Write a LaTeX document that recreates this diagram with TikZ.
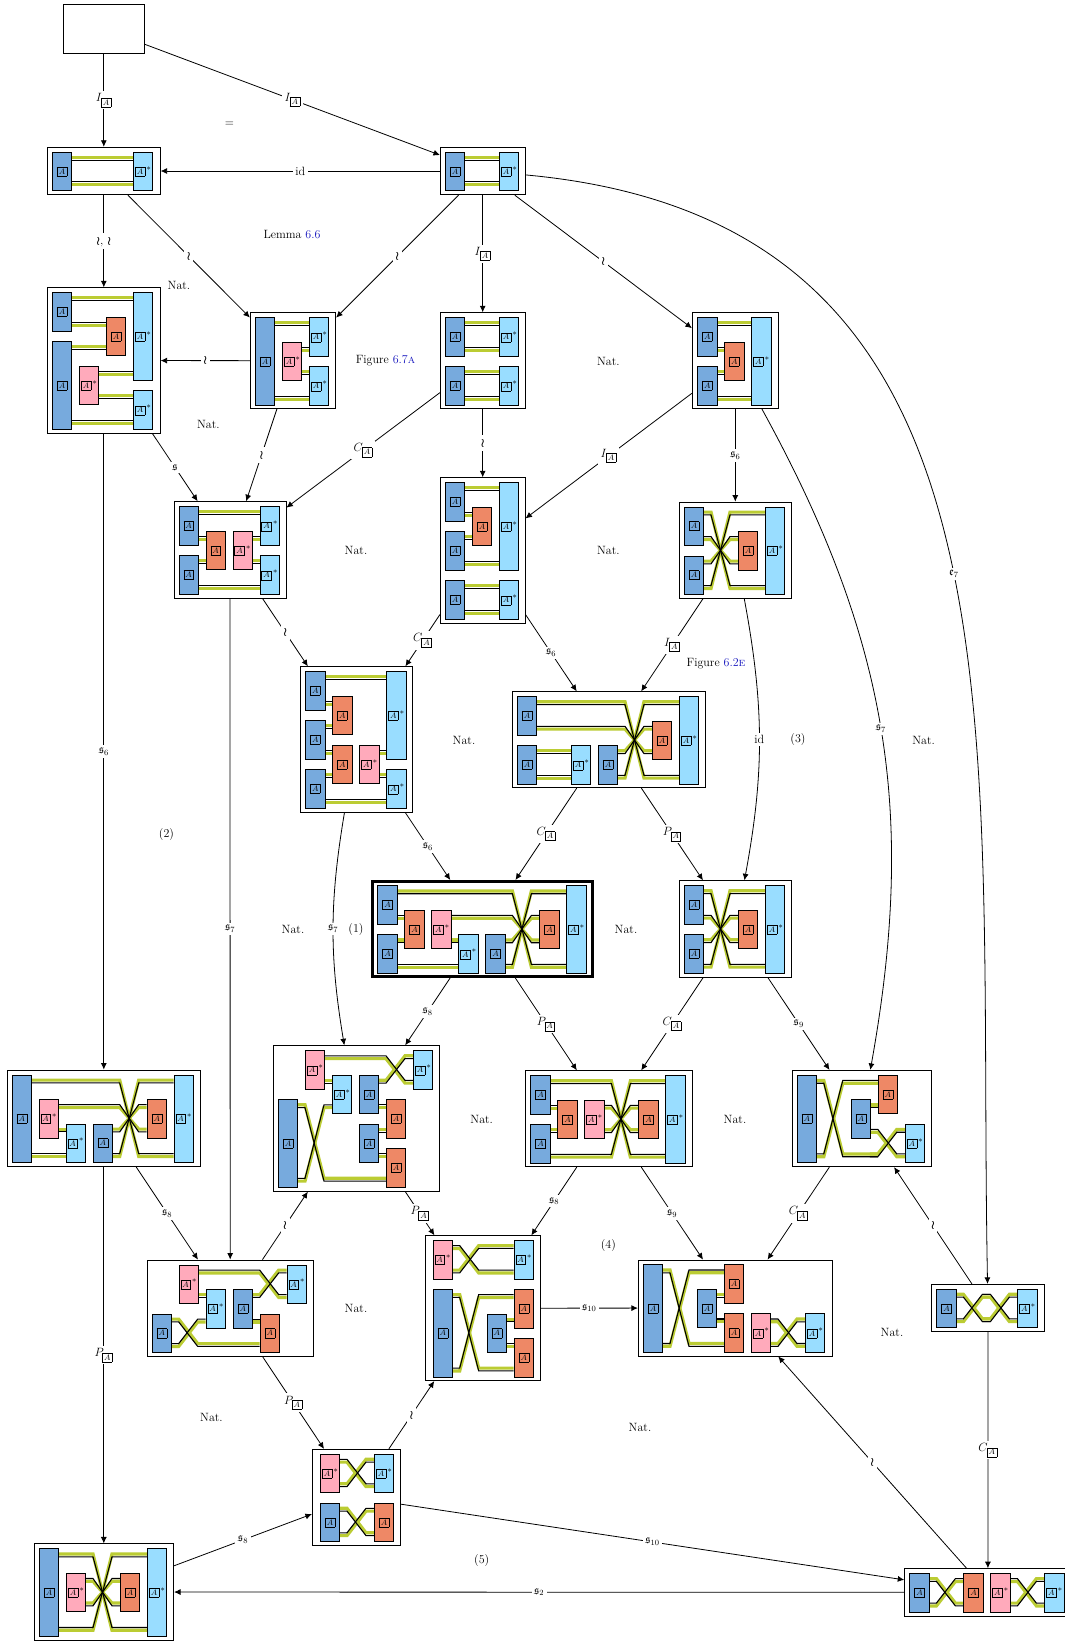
\documentclass[tikz,border=0pt]{standalone}
\usepackage{amsmath}
\usepackage{amssymb}
\usetikzlibrary{arrows.meta}
\definecolor{tolblue}{HTML}{77AADD}
\definecolor{tolcyan}{HTML}{99DDFF}
\definecolor{tolorange}{HTML}{EE8866}
\definecolor{tolpink}{HTML}{FFAABB}
\definecolor{tolpear}{HTML}{BBCC33}
\definecolor{reflink}{rgb}{0.1,0.1,0.75}
\pgfdeclarelayer{celllayer}
\pgfdeclarelayer{greenlayer}
\pgfdeclarelayer{blacklayer}
\pgfsetlayers{celllayer,greenlayer,blacklayer,main}
\tikzset{
  cellframe/.style={draw,line width=0.8pt,fill=white,inner sep=0pt},
  boldframe/.style={cellframe,line width=3pt},
  blockbox/.style={draw,line width=0.8pt,inner sep=0pt,minimum width=19.3pt,anchor=north west},
  greenwire/.style={tolpear,line width=3.2pt},
  blackwire/.style={black,line width=1.1pt},
  arr/.style={-{Latex[length=6.5pt,width=6pt]},line width=0.8pt},
  lab/.style={fill=white,inner sep=2.5pt},
  every node/.append style={font=\fontsize{12}{14}\selectfont}
}
\newcommand{\boxA}{{\fboxsep=1.6pt\fboxrule=0.35pt\fbox{$\scriptstyle A$}}}
\newcommand{\sA}{\mathfrak{s}}
\newcommand{\iso}{\boldsymbol{\wr}}
\newcount\blkno
\newcommand{\blk}[5]{\global\advance\blkno by 1
  \node[blockbox,fill=#4,minimum height={24.5*(#3-#2)+14}] (blk\the\blkno) at ({27*#1},{24.5*#2}) {#5};}
\newcommand{\bluebk}[3]{\blk{#1}{#2}{#3}{tolblue}{\boxA}}
\newcommand{\orangebk}[3]{\blk{#1}{#2}{#3}{tolorange}{\boxA}}
\newcommand{\cyanbk}[3]{\blk{#1}{#2}{#3}{tolcyan}{\boxA$^{\,*}$}}
\newcommand{\pinkbk}[3]{\blk{#1}{#2}{#3}{tolpink}{\boxA$^{\,*}$}}
\newcommand{\wire}[4]{\foreach \sd/\lay/\sty in {1/greenlayer/greenwire,-1/blacklayer/blackwire}{
  \begin{pgfonlayer}{\lay}
  \draw[\sty] ({27*#1+19},{7+24.5*#3+1.4*\sd*#4}) -- ({27*#2},{7+24.5*#3+1.4*\sd*#4});
  \end{pgfonlayer}}}
\newcommand{\xwire}[7]{\foreach \sd/\lay/\sty in {1/greenlayer/greenwire,-1/blacklayer/blackwire}{
  \begin{pgfonlayer}{\lay}
  \draw[\sty] ({27*#1+19},{7+24.5*#4+1.4*\sd*#5}) -- ({27*#2},{7+24.5*#4+1.4*\sd*#5})
    -- ({27*#2+19},{7+24.5*#6+1.4*\sd*#7}) -- ({27*#3},{7+24.5*#6+1.4*\sd*#7});
  \end{pgfonlayer}}}
\newcommand{\conn}[3]{\draw[arr] (#1) -- node[lab] (#1-#2) {#3} (#2);}
\newcommand{\cellat}[6][cellframe]{\begin{pgfonlayer}{celllayer}
  \node[#1,minimum width=#5pt,minimum height=#6pt] (#2) at (#3,#4) {};
  \end{pgfonlayer}}
\begin{document}
\begin{tikzpicture}[x=1pt,y=-1pt]
\useasboundingbox (0,0) rectangle (1065,1642);

\cellat{d0}{103.8}{29}{81.6}{48.6}

\cellat{d1}{103.8}{171}{112.8}{47.6}
\begin{scope}[shift={(52,151.7)}]
  \wire{0}{3}{0}{-1} \wire{0}{3}{1}{1}
  \bluebk{0}{0}{1} \cyanbk{3}{0}{1}
\end{scope}

\cellat{d2}{482.7}{171}{84.7}{47.6}
\begin{scope}[shift={(445,151.7)}]
  \wire{0}{2}{0}{-1} \wire{0}{2}{1}{1}
  \bluebk{0}{0}{1} \cyanbk{2}{0}{1}
\end{scope}

\cellat{d3}{103.8}{360.5}{112.8}{145.6}
\begin{scope}[shift={(52,292.2)}]
  \wire{0}{3}{0}{-1} \wire{0}{2}{1}{1} \wire{0}{2}{2}{-1}
  \wire{1}{3}{3}{1} \wire{1}{3}{4}{-1} \wire{0}{3}{5}{1}
  \bluebk{0}{0}{1} \bluebk{0}{2}{5} \orangebk{2}{1}{2}
  \pinkbk{1}{3}{4} \cyanbk{3}{0}{3} \cyanbk{3}{4}{5}
\end{scope}

\cellat{d4}{293}{360.7}{85.4}{96}
\begin{scope}[shift={(255,317.2)}]
  \wire{0}{2}{0}{-1} \wire{1}{2}{1}{1} \wire{1}{2}{2}{-1} \wire{0}{2}{3}{1}
  \bluebk{0}{0}{3} \pinkbk{1}{1}{2} \cyanbk{2}{0}{1} \cyanbk{2}{2}{3}
\end{scope}

\cellat{d5}{482.7}{360.7}{84.7}{96}
\begin{scope}[shift={(445,317.2)}]
  \wire{0}{2}{0}{-1} \wire{0}{2}{1}{1} \wire{0}{2}{2}{-1} \wire{0}{2}{3}{1}
  \bluebk{0}{0}{1} \bluebk{0}{2}{3} \cyanbk{2}{0}{1} \cyanbk{2}{2}{3}
\end{scope}

\cellat{d6}{735.3}{360.7}{86}{96}
\begin{scope}[shift={(697.3,317.2)}]
  \wire{0}{2}{0}{-1} \wire{0}{1}{1}{1} \wire{0}{1}{2}{-1} \wire{0}{2}{3}{1}
  \bluebk{0}{0}{1} \bluebk{0}{2}{3} \orangebk{1}{1}{2} \cyanbk{2}{0}{3}
\end{scope}

\cellat{d7}{230}{549.8}{112}{96.4}
\begin{scope}[shift={(178.6,506.2)}]
  \wire{0}{3}{0}{-1} \wire{0}{1}{1}{1} \wire{0}{1}{2}{-1}
  \wire{2}{3}{1}{1} \wire{2}{3}{2}{-1} \wire{0}{3}{3}{1}
  \bluebk{0}{0}{1} \bluebk{0}{2}{3} \orangebk{1}{1}{2} \pinkbk{2}{1}{2}
  \cyanbk{3}{0}{1} \cyanbk{3}{2}{3}
\end{scope}

\cellat{d8}{482.7}{550.5}{84.7}{145.6}
\begin{scope}[shift={(445,482.2)}]
  \wire{0}{2}{0}{-1} \wire{0}{1}{1}{1} \wire{0}{1}{2}{-1} \wire{0}{2}{3}{1}
  \wire{0}{2}{4}{-1} \wire{0}{2}{5}{1}
  \bluebk{0}{0}{1} \bluebk{0}{2}{3} \bluebk{0}{4}{5} \orangebk{1}{1}{2}
  \cyanbk{2}{0}{3} \cyanbk{2}{4}{5}
\end{scope}

\cellat{d9}{735.3}{550.2}{112.4}{96.3}
\begin{scope}[shift={(684,506.5)}]
  \xwire{0}{1}{3}{0}{-1}{3}{1} \xwire{0}{1}{2}{1}{1}{2}{-1}
  \xwire{0}{1}{2}{2}{-1}{1}{1} \xwire{0}{1}{3}{3}{1}{0}{-1}
  \bluebk{0}{0}{1} \bluebk{0}{2}{3} \orangebk{2}{1}{2} \cyanbk{3}{0}{3}
\end{scope}

\cellat{d10}{356.7}{739.5}{112}{145.6}
\begin{scope}[shift={(305.3,671.2)}]
  \wire{0}{3}{0}{-1} \wire{0}{1}{1}{1} \wire{0}{1}{2}{-1} \wire{0}{1}{3}{1}
  \wire{0}{1}{4}{-1} \wire{2}{3}{3}{1} \wire{2}{3}{4}{-1} \wire{0}{3}{5}{1}
  \bluebk{0}{0}{1} \bluebk{0}{2}{3} \bluebk{0}{4}{5} \orangebk{1}{1}{2}
  \orangebk{1}{3}{4} \pinkbk{2}{3}{4} \cyanbk{3}{0}{3} \cyanbk{3}{4}{5}
\end{scope}

\cellat{d11}{609}{739.7}{193.7}{96}
\begin{scope}[shift={(517,696.2)}]
  \wire{0}{2}{2}{-1} \wire{0}{2}{3}{1}
  \xwire{0}{4}{6}{0}{-1}{3}{1} \xwire{0}{4}{5}{1}{1}{2}{-1}
  \xwire{3}{4}{5}{2}{-1}{1}{1} \xwire{3}{4}{6}{3}{1}{0}{-1}
  \bluebk{0}{0}{1} \bluebk{0}{2}{3} \cyanbk{2}{2}{3} \bluebk{3}{2}{3}
  \orangebk{5}{1}{2} \cyanbk{6}{0}{3}
\end{scope}

\cellat[boldframe]{d12}{482.8}{929}{220}{95}
\begin{scope}[shift={(377.4,885.3)}]
  \wire{0}{1}{1}{1} \wire{0}{1}{2}{-1} \wire{0}{3}{3}{1} \wire{2}{3}{2}{-1}
  \xwire{0}{5}{7}{0}{-1}{3}{1} \xwire{2}{5}{6}{1}{1}{2}{-1}
  \xwire{4}{5}{6}{2}{-1}{1}{1} \xwire{4}{5}{7}{3}{1}{0}{-1}
  \bluebk{0}{0}{1} \bluebk{0}{2}{3} \orangebk{1}{1}{2} \pinkbk{2}{1}{2}
  \cyanbk{3}{2}{3} \bluebk{4}{2}{3} \orangebk{6}{1}{2} \cyanbk{7}{0}{3}
\end{scope}

\cellat{d13}{735.5}{929}{112.4}{96.6}
\begin{scope}[shift={(684,885.2)}]
  \xwire{0}{1}{3}{0}{-1}{3}{1} \xwire{0}{1}{2}{1}{1}{2}{-1}
  \xwire{0}{1}{2}{2}{-1}{1}{1} \xwire{0}{1}{3}{3}{1}{0}{-1}
  \bluebk{0}{0}{1} \bluebk{0}{2}{3} \orangebk{2}{1}{2} \cyanbk{3}{0}{3}
\end{scope}

\cellat{d14}{103.8}{1118.3}{193.7}{96.7}
\begin{scope}[shift={(11.7,1074.5)}]
  \wire{1}{2}{2}{-1} \wire{0}{2}{3}{1}
  \xwire{0}{4}{6}{0}{-1}{3}{1} \xwire{1}{4}{5}{1}{1}{2}{-1}
  \xwire{3}{4}{5}{2}{-1}{1}{1} \xwire{3}{4}{6}{3}{1}{0}{-1}
  \bluebk{0}{0}{3} \pinkbk{1}{1}{2} \cyanbk{2}{2}{3} \bluebk{3}{2}{3}
  \orangebk{5}{1}{2} \cyanbk{6}{0}{3}
\end{scope}

\cellat{d15}{356.5}{1118.5}{166.4}{145.6}
\begin{scope}[shift={(278,1050.2)}]
  \wire{1}{2}{1}{-1} \wire{3}{4}{2}{1} \wire{3}{4}{3}{-1} \wire{3}{4}{4}{1}
  \xwire{1}{4}{5}{0}{1}{1}{1} \xwire{3}{4}{5}{1}{-1}{0}{-1}
  \xwire{0}{1}{4}{2}{-1}{5}{-1} \xwire{0}{1}{2}{5}{1}{2}{1}
  \bluebk{0}{2}{5} \pinkbk{1}{0}{1} \cyanbk{2}{1}{2} \bluebk{3}{1}{2}
  \cyanbk{5}{0}{1} \orangebk{4}{2}{3} \bluebk{3}{3}{4} \orangebk{4}{4}{5}
\end{scope}

\cellat{d16}{609}{1118.7}{166.6}{96}
\begin{scope}[shift={(530.4,1075.2)}]
  \wire{0}{1}{1}{1} \wire{0}{1}{2}{-1}
  \xwire{0}{3}{5}{0}{-1}{3}{1} \xwire{0}{3}{5}{3}{1}{0}{-1}
  \xwire{2}{3}{4}{1}{1}{2}{-1} \xwire{2}{3}{4}{2}{-1}{1}{1}
  \bluebk{0}{0}{1} \bluebk{0}{2}{3} \orangebk{1}{1}{2} \pinkbk{2}{1}{2}
  \orangebk{4}{1}{2} \cyanbk{5}{0}{3}
\end{scope}

\cellat{d17}{861.8}{1118.5}{139.7}{96.4}
\begin{scope}[shift={(796.8,1074.8)}]
  \wire{2}{3}{1}{-1}
  \xwire{0}{1}{3}{0}{-1}{3}{-1} \xwire{0}{1}{3}{3}{1}{0}{1}
  \xwire{2}{3}{4}{3}{-1}{2}{-1} \xwire{2}{3}{4}{2}{1}{3}{1}
  \bluebk{0}{0}{3} \bluebk{2}{1}{2} \orangebk{3}{0}{1} \cyanbk{4}{2}{3}
\end{scope}

\cellat{d18}{230.2}{1308}{166.4}{96}
\begin{scope}[shift={(151.7,1264.5)}]
  \wire{1}{2}{1}{-1} \wire{3}{4}{2}{1}
  \xwire{1}{4}{5}{0}{1}{1}{1} \xwire{3}{4}{5}{1}{-1}{0}{-1}
  \xwire{0}{1}{2}{3}{1}{2}{1} \xwire{0}{1}{4}{2}{-1}{3}{-1}
  \bluebk{0}{2}{3} \pinkbk{1}{0}{1} \cyanbk{2}{1}{2} \bluebk{3}{1}{2}
  \orangebk{4}{2}{3} \cyanbk{5}{0}{1}
\end{scope}

\cellat{d19}{483}{1308.2}{114.6}{145}
\begin{scope}[shift={(432.7,1240)}]
  \wire{2}{3}{3}{-1} \wire{2}{3}{4}{1}
  \xwire{0}{1}{3}{0}{1}{1}{1} \xwire{0}{1}{3}{1}{-1}{0}{-1}
  \xwire{0}{1}{3}{2}{-1}{5}{-1} \xwire{0}{1}{3}{5}{1}{2}{1}
  \pinkbk{0}{0}{1} \cyanbk{3}{0}{1} \bluebk{0}{2}{5} \bluebk{2}{3}{4}
  \orangebk{3}{2}{3} \orangebk{3}{4}{5}
\end{scope}

\cellat{d20}{735.3}{1308}{194}{96}
\begin{scope}[shift={(643,1264.4)}]
  \wire{2}{3}{1}{-1} \wire{2}{3}{2}{1}
  \xwire{0}{1}{3}{0}{-1}{3}{-1} \xwire{0}{1}{3}{3}{1}{0}{1}
  \xwire{4}{5}{6}{2}{1}{3}{1} \xwire{4}{5}{6}{3}{-1}{2}{-1}
  \bluebk{0}{0}{3} \bluebk{2}{1}{2} \orangebk{3}{0}{1} \orangebk{3}{2}{3}
  \pinkbk{4}{2}{3} \cyanbk{6}{2}{3}
\end{scope}

\cellat{d21}{988}{1308}{112.6}{47.4}
\begin{scope}[shift={(936.4,1288.7)}]
  \xwire{0}{1}{2}{0}{-1}{1}{-1} \xwire{0}{1}{2}{1}{1}{0}{1}
  \xwire{1}{2}{3}{1}{-1}{0}{-1} \xwire{1}{2}{3}{0}{1}{1}{1}
  \bluebk{0}{0}{1} \cyanbk{3}{0}{1}
\end{scope}

\cellat{d22}{356.3}{1497.5}{88}{96.4}
\begin{scope}[shift={(320,1453.7)}]
  \xwire{0}{1}{2}{0}{1}{1}{1} \xwire{0}{1}{2}{1}{-1}{0}{-1}
  \xwire{0}{1}{2}{2}{-1}{3}{-1} \xwire{0}{1}{2}{3}{1}{2}{1}
  \pinkbk{0}{0}{1} \cyanbk{2}{0}{1} \bluebk{0}{2}{3} \orangebk{2}{2}{3}
\end{scope}

\cellat{d23}{103.8}{1592}{139.7}{96.3}
\begin{scope}[shift={(39,1548.4)}]
  \xwire{0}{2}{4}{0}{-1}{3}{1} \xwire{0}{2}{4}{3}{1}{0}{-1}
  \xwire{1}{2}{3}{1}{1}{2}{-1} \xwire{1}{2}{3}{2}{-1}{1}{1}
  \bluebk{0}{0}{3} \pinkbk{1}{1}{2} \orangebk{3}{1}{2} \cyanbk{4}{0}{3}
\end{scope}

\cellat{d24}{987.9}{1592.3}{166.5}{47.4}
\begin{scope}[shift={(909.4,1573)}]
  \xwire{0}{1}{2}{0}{-1}{1}{-1} \xwire{0}{1}{2}{1}{1}{0}{1}
  \xwire{3}{4}{5}{0}{1}{1}{1} \xwire{3}{4}{5}{1}{-1}{0}{-1}
  \bluebk{0}{0}{1} \orangebk{2}{0}{1} \pinkbk{3}{0}{1} \cyanbk{5}{0}{1}
\end{scope}

\conn{d0}{d1}{$I_{\boxA}$}
\conn{d0}{d2}{$I_{\boxA}$}
\conn{d2}{d1}{id}
\conn{d1}{d3}{$\iso,\,\iso$}
\conn{d1}{d4}{$\iso$}
\conn{d2}{d4}{$\iso$}
\conn{d2}{d5}{$I_{\boxA}$}
\conn{d2}{d6}{$\iso$}
\conn{d4}{d3}{$\iso$}
\conn{d3}{d7}{$\sA$}
\conn{d4}{d7}{$\iso$}
\conn{d5}{d7}{$C_{\boxA}$}
\conn{d5}{d8}{$\iso$}
\conn{d6}{d8}{$I_{\boxA}$}
\conn{d6}{d9}{$\sA_6$}
\conn{d7}{d10}{$\iso$}
\conn{d8}{d10}{$C_{\boxA}$}
\conn{d8}{d11}{$\sA_6$}
\conn{d9}{d11}{$I_{\boxA}$}
\conn{d3}{d14}{$\sA_6$}
\conn{d7}{d18}{$\sA_7$}
\conn{d10}{d12}{$\sA_6$}
\conn{d11}{d12}{$C_{\boxA}$}
\conn{d11}{d13}{$P_{\boxA}$}
\conn{d12}{d15}{$\sA_8$}
\conn{d12}{d16}{$P_{\boxA}$}
\conn{d13}{d16}{$C_{\boxA}$}
\conn{d13}{d17}{$\sA_9$}
\conn{d14}{d18}{$\sA_8$}
\conn{d14}{d23}{$P_{\boxA}$}
\conn{d18}{d15}{$\iso$}
\conn{d18}{d22}{$P_{\boxA}$}
\conn{d15}{d19}{$P_{\boxA}$}
\conn{d16}{d19}{$\sA_8$}
\conn{d16}{d20}{$\sA_9$}
\conn{d17}{d20}{$C_{\boxA}$}
\conn{d21}{d17}{$\iso$}
\conn{d19}{d20}{$\sA_{10}$}
\conn{d22}{d19}{$\iso$}
\conn{d22}{d24}{$\sA_{10}$}
\conn{d23}{d22}{$\sA_8$}
\conn{d24}{d23}{$\sA_2$}
\conn{d24}{d20}{$\iso$}
\conn{d21}{d24}{$C_{\boxA}$}
\draw[arr] (d9) to[bend left=10.5] node[lab] (d9-d13) {id} (d13);
\draw[arr] (d10) to[bend right=9.5] node[lab] (d10-d15) {$\sA_7$} (d15);
\draw[arr] (d6) to[bend left=19.5] node[lab] (d6-d17) {$\sA_7$} (d17);
\draw[arr] (d2) .. controls (1040,222) and (977,724) .. node[lab,pos=.53] (d2-d21) {$\mathfrak{e}_7$} (d21);

\node (eq0) at (229.5,124.8) {=};
\node (lem0) at (292,235) {Lemma \textcolor{reflink}{6.6}};
\node (figA) at (385.5,360.2) {Figure \textcolor{reflink}{6.7\textsc{a}}};
\node (figE) at (716,664) {Figure \textcolor{reflink}{6.2\textsc{e}}};
\node (nat1) at (179,285) {Nat.};
\node (nat2) at (208.4,424) {Nat.};
\node (nat3) at (608.4,361) {Nat.};
\node (nat4) at (356,550) {Nat.};
\node (nat5) at (608.4,550) {Nat.};
\node (nat6) at (464,740) {Nat.};
\node (nat7) at (923.6,740) {Nat.};
\node (nat8) at (293,929) {Nat.};
\node (nat9) at (626,929) {Nat.};
\node (nat10) at (481.7,1119) {Nat.};
\node (nat11) at (735,1119) {Nat.};
\node (nat12) at (356,1308) {Nat.};
\node (nat13) at (892,1332) {Nat.};
\node (nat14) at (211.5,1417) {Nat.};
\node (nat15) at (640,1427) {Nat.};
\node (mark1) at (356,929) {(1)};
\node (mark2) at (166.5,834.6) {(2)};
\node (mark3) at (798,739) {(3)};
\node (mark4) at (608.4,1245) {(4)};
\node (mark5) at (481.7,1560) {(5)};
\end{tikzpicture}
\end{document}
